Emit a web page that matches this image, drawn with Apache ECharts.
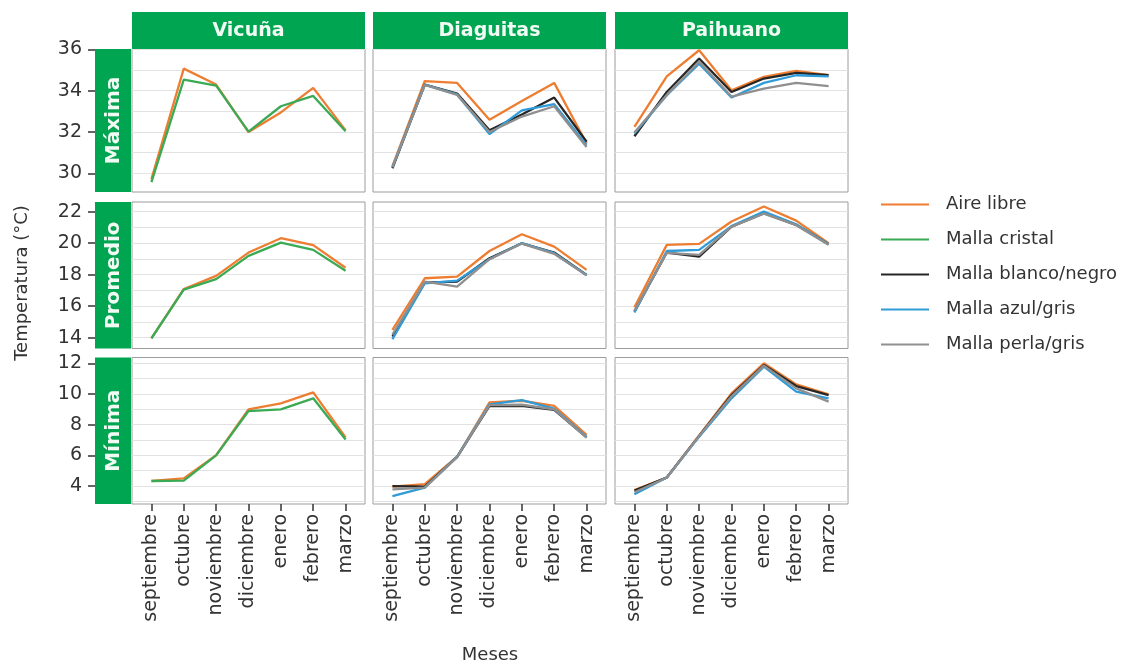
<!DOCTYPE html>
<html>
<head>
<meta charset="utf-8">
<script src="https://cdn.jsdelivr.net/npm/echarts@6/dist/echarts.min.js"></script>
<style>
  html, body { margin: 0; padding: 0; background: #ffffff; }
  #chart { width: 1144px; height: 667px; }
</style>
</head>
<body>
<div id="chart"></div>
<script>
// ---- categories and labels ----
const months = ['septiembre', 'octubre', 'noviembre', 'diciembre', 'enero', 'febrero', 'marzo'];
const sites = ['Vicuña', 'Diaguitas', 'Paihuano'];
const measures = ['Máxima', 'Promedio', 'Mínima'];
const treatments = ['Aire libre', 'Malla cristal', 'Malla blanco/negro', 'Malla azul/gris', 'Malla perla/gris'];
const yTickLabels = [[30, 32, 34, 36], [14, 16, 18, 20, 22], [4, 6, 8, 10, 12]];

// ---- temperatures (°C), one value per month ----
// Máxima
const vicMaxAire    = [29.72, 35.07, 34.30, 32.00, 32.95, 34.14, 32.08];
const vicMaxCristal = [29.58, 34.54, 34.25, 32.02, 33.25, 33.75, 32.04];
const diaMaxAire    = [30.35, 34.47, 34.38, 32.60, 33.50, 34.38, 31.45];
const diaMaxBN      = [30.25, 34.30, 33.86, 32.09, 32.85, 33.67, 31.53];
const diaMaxAzul    = [30.30, 34.30, 33.82, 31.90, 33.05, 33.35, 31.38];
const diaMaxPerla   = [30.30, 34.28, 33.80, 32.00, 32.75, 33.25, 31.28];
const paiMaxAire    = [32.25, 34.70, 35.96, 34.02, 34.67, 34.96, 34.76];
const paiMaxBN      = [31.80, 33.94, 35.56, 33.94, 34.59, 34.86, 34.75];
const paiMaxAzul    = [31.93, 33.78, 35.31, 33.67, 34.38, 34.75, 34.70];
const paiMaxPerla   = [31.98, 33.80, 35.40, 33.72, 34.10, 34.38, 34.22];
// Promedio
const vicMedAire    = [13.96, 17.09, 17.92, 19.40, 20.31, 19.87, 18.44];
const vicMedCristal = [13.96, 17.05, 17.71, 19.19, 20.03, 19.57, 18.25];
const diaMedAire    = [14.49, 17.77, 17.87, 19.50, 20.56, 19.78, 18.30];
const diaMedBN      = [14.06, 17.49, 17.56, 19.04, 19.99, 19.40, 17.98];
const diaMedAzul    = [13.90, 17.45, 17.62, 18.98, 20.00, 19.36, 17.98];
const diaMedPerla   = [14.20, 17.55, 17.24, 18.98, 19.97, 19.32, 17.95];
const paiMedAire    = [15.93, 19.89, 19.95, 21.37, 22.32, 21.43, 19.99];
const paiMedBN      = [15.65, 19.40, 19.14, 21.05, 21.90, 21.16, 19.93];
const paiMedAzul    = [15.59, 19.50, 19.57, 21.08, 22.00, 21.20, 19.93];
const paiMedPerla   = [15.70, 19.38, 19.25, 21.05, 21.87, 21.14, 19.90];
// Mínima
const vicMinAire    = [4.33, 4.50, 6.02, 9.00, 9.39, 10.11, 7.17];
const vicMinCristal = [4.33, 4.35, 6.00, 8.89, 9.00, 9.72, 7.04];
const diaMinAire    = [3.96, 4.13, 5.91, 9.45, 9.56, 9.22, 7.33];
const diaMinBN      = [4.00, 3.96, 5.90, 9.22, 9.22, 8.96, 7.17];
const diaMinAzul    = [3.35, 3.90, 5.92, 9.32, 9.60, 9.05, 7.20];
const diaMinPerla   = [3.78, 3.90, 5.88, 9.28, 9.30, 9.00, 7.15];
const paiMinAire    = [3.74, 4.56, 7.30, 10.04, 12.00, 10.63, 9.98];
const paiMinBN      = [3.70, 4.56, 7.26, 9.93, 11.89, 10.52, 9.93];
const paiMinAzul    = [3.46, 4.56, 7.22, 9.72, 11.78, 10.15, 9.72];
const paiMinPerla   = [3.60, 4.54, 7.26, 9.85, 11.85, 10.37, 9.50];

// panel contents: [row][col] -> list of [treatment index, values]
const panels = [
  [
    [[0, vicMaxAire], [1, vicMaxCristal]],
    [[0, diaMaxAire], [2, diaMaxBN], [3, diaMaxAzul], [4, diaMaxPerla]],
    [[0, paiMaxAire], [2, paiMaxBN], [3, paiMaxAzul], [4, paiMaxPerla]]
  ],
  [
    [[0, vicMedAire], [1, vicMedCristal]],
    [[0, diaMedAire], [2, diaMedBN], [3, diaMedAzul], [4, diaMedPerla]],
    [[0, paiMedAire], [2, paiMedBN], [3, paiMedAzul], [4, paiMedPerla]]
  ],
  [
    [[0, vicMinAire], [1, vicMinCristal]],
    [[0, diaMinAire], [2, diaMinBN], [3, diaMinAzul], [4, diaMinPerla]],
    [[0, paiMinAire], [2, paiMinBN], [3, paiMinAzul], [4, paiMinPerla]]
  ]
];

// ---- styling and layout ----
const lineColors = ['#ED7D31', '#3BAA55', '#262626', '#2F9BD8', '#8F8F8F'];
const stripGreen = '#00A551';
const stripText = '#F2FAF4';
const textColor = '#333333';
const FONT = '"DejaVu Sans", sans-serif';

const colLeft = [132, 373, 615];
const colWidth = 233;
const rowTop = [49, 202, 357.5];
const rowHeight = [143, 146.5, 146.5];
const yExtent = [[29.1, 36.02], [13.31, 22.61], [2.83, 12.38]];
const stripTop = 12, stripHeight = 37;
const rowStripLeft = 95, rowStripWidth = 36;

function integersIn(lo, hi) {
  const out = [];
  for (let v = Math.ceil(lo); v <= Math.floor(hi); v++) out.push(v);
  return out;
}
const monthIdx = months.map((m, i) => i);

const grids = [], xAxes = [], yAxes = [], series = [];
for (let r = 0; r < 3; r++) {
  for (let c = 0; c < 3; c++) {
    const g = r * 3 + c;
    grids.push({
      left: colLeft[c], top: rowTop[r], width: colWidth, height: rowHeight[r],
      show: true, backgroundColor: '#ffffff', borderColor: '#9c9c9c', borderWidth: 1
    });
    const bottom = r === 2;
    xAxes.push({
      gridIndex: g, type: 'value', min: -0.6, max: 6.6,
      axisLine: { show: false },
      splitLine: { show: false },
      axisTick: { show: bottom, customValues: monthIdx, length: 7, inside: false,
                  lineStyle: { color: '#333333', width: 1.5 } },
      axisLabel: { show: bottom, customValues: monthIdx, rotate: 90, margin: 10,
                   fontSize: 19, fontFamily: FONT, color: textColor,
                   formatter: v => months[Math.round(v)] }
    });
    const [lo, hi] = yExtent[r];
    yAxes.push({
      gridIndex: g, type: 'value', min: lo, max: hi,
      axisLine: { show: false },
      axisTick: { show: false, customValues: integersIn(lo, hi) },
      axisLabel: { show: false },
      splitLine: { show: true, lineStyle: { color: '#e2e2e2', width: 1 } }
    });
    panels[r][c].forEach(([t, vals]) => {
      series.push({
        name: treatments[t], type: 'line', xAxisIndex: g, yAxisIndex: g,
        data: vals.map((v, i) => [i, v]),
        symbol: 'none', silent: true,
        lineStyle: { color: lineColors[t], width: 2.3 },
        itemStyle: { color: lineColors[t] }
      });
    });
  }
}
// tick labels on the left of each row, beyond the row strip
for (let r = 0; r < 3; r++) {
  const [lo, hi] = yExtent[r];
  yAxes.push({
    gridIndex: r * 3, type: 'value', min: lo, max: hi, position: 'left',
    offset: colLeft[0] - rowStripLeft,
    axisLine: { show: false },
    splitLine: { show: false },
    axisTick: { show: true, customValues: yTickLabels[r], length: 7,
                lineStyle: { color: '#333333', width: 1.5 } },
    axisLabel: { show: true, customValues: yTickLabels[r], margin: 13,
                 fontSize: 19, fontFamily: FONT, color: textColor }
  });
}

// facet strips and axis titles
const graphics = [];
sites.forEach((s, c) => {
  graphics.push({ type: 'rect', shape: { x: colLeft[c], y: stripTop, width: colWidth, height: stripHeight },
                  style: { fill: stripGreen }, silent: true });
  graphics.push({ type: 'text', x: colLeft[c] + colWidth / 2, y: stripTop + stripHeight / 2 + 1,
                  style: { text: s, fill: stripText, font: 'bold 19px ' + FONT,
                           align: 'center', verticalAlign: 'middle', textAlign: 'center', textVerticalAlign: 'middle' },
                  silent: true });
});
measures.forEach((m, r) => {
  graphics.push({ type: 'rect', shape: { x: rowStripLeft, y: rowTop[r], width: rowStripWidth, height: rowHeight[r] },
                  style: { fill: stripGreen }, silent: true });
  graphics.push({ type: 'text', x: rowStripLeft + rowStripWidth / 2 + 1, y: rowTop[r] + rowHeight[r] / 2,
                  rotation: Math.PI / 2,
                  style: { text: m, fill: stripText, font: 'bold 20px ' + FONT,
                           align: 'center', verticalAlign: 'middle', textAlign: 'center', textVerticalAlign: 'middle' },
                  silent: true });
});
graphics.push({ type: 'text', x: 22, y: 283, rotation: Math.PI / 2,
                style: { text: 'Temperatura (°C)', fill: textColor, font: '18px ' + FONT,
                         align: 'center', verticalAlign: 'middle', textAlign: 'center', textVerticalAlign: 'middle' } });
graphics.push({ type: 'text', x: 490, y: 655,
                style: { text: 'Meses', fill: textColor, font: '18px ' + FONT,
                         align: 'center', verticalAlign: 'middle', textAlign: 'center', textVerticalAlign: 'middle' } });

const chart = echarts.init(document.getElementById('chart'), null, { renderer: 'canvas' });
chart.setOption({
  animation: false,
  backgroundColor: '#ffffff',
  textStyle: { fontFamily: FONT },
  grid: grids,
  xAxis: xAxes,
  yAxis: yAxes,
  series: series,
  graphic: graphics,
  legend: {
    data: treatments,
    orient: 'vertical',
    left: 876, top: 189,
    icon: 'rect',
    itemWidth: 48, itemHeight: 2, itemGap: 14,
    selectedMode: false,
    textStyle: { fontSize: 18, fontFamily: FONT, color: textColor, padding: [0, 0, 0, 12], lineHeight: 21 }
  }
});
</script>
</body>
</html>
